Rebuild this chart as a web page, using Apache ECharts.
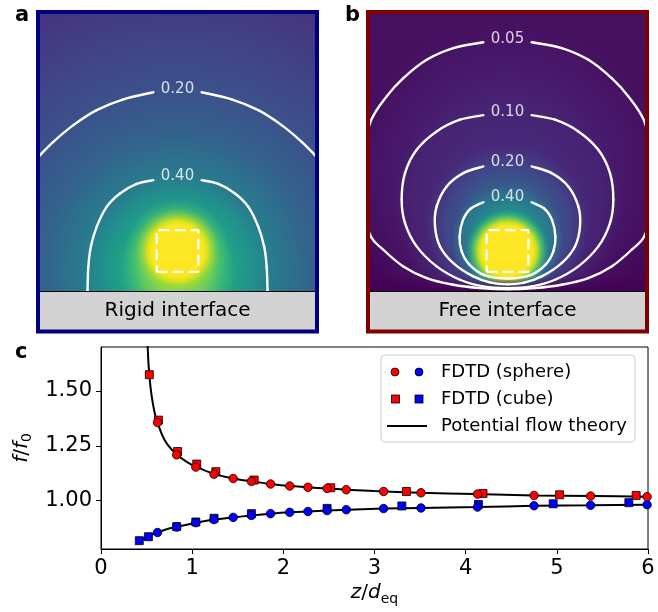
<!DOCTYPE html>
<html><head><meta charset="utf-8">
<script src="https://cdn.jsdelivr.net/npm/echarts@6/dist/echarts.min.js"></script>
<style>html,body{margin:0;padding:0;background:#fff}#c{width:658px;height:612px}</style>
</head><body><div id="c"></div>
<script>
// ================= DATA =================
// Panel c: FDTD sphere results (red = free interface, blue = rigid interface)
const sphereZ     = [0.62,0.83,1.04,1.24,1.45,1.65,1.86,2.07,2.27,2.48,2.69,3.10,3.51,4.13,4.75,5.37,5.99];
const sphereRed   = [1.356,1.209,1.153,1.121,1.101,1.088,1.076,1.067,1.061,1.056,1.050,1.042,1.036,1.030,1.024,1.021,1.018];
const sphereBlue  = [0.855,0.880,0.900,0.914,0.924,0.933,0.941,0.947,0.951,0.955,0.959,0.964,0.967,0.971,0.977,0.979,0.982];
// FDTD cube results
const cubeZRed    = [0.53,0.63,0.84,1.05,1.26,1.68,2.52,3.35,4.19,5.03,5.87];
const cubeRed     = [1.574,1.367,1.224,1.167,1.132,1.094,1.059,1.042,1.033,1.027,1.024];
const cubeZBlue   = [0.42,0.52,0.83,1.04,1.24,1.65,2.48,3.30,4.14,4.96,5.79];
const cubeBlue    = [0.818,0.836,0.882,0.903,0.920,0.941,0.965,0.976,0.983,0.986,0.991];
// Potential flow theory curves
const theoryRed  = [[0.505,1.75],[0.512,1.70],[0.520,1.63],[0.530,1.575],[0.545,1.51],[0.57,1.44],[0.60,1.38],[0.62,1.356],[0.67,1.30],[0.73,1.255],[0.83,1.21],[0.94,1.177],[1.04,1.155],[1.24,1.122],[1.45,1.101],[1.65,1.088],[1.86,1.076],[2.07,1.067],[2.5,1.055],[3.0,1.044],[3.5,1.036],[4.1,1.030],[4.75,1.024],[5.4,1.021],[6.0,1.018]];
const theoryBlue = [[0.42,0.818],[0.52,0.838],[0.62,0.856],[0.72,0.870],[0.83,0.881],[1.04,0.900],[1.24,0.914],[1.45,0.924],[1.65,0.933],[1.86,0.941],[2.07,0.947],[2.48,0.955],[3.1,0.964],[3.5,0.967],[4.13,0.971],[4.75,0.977],[5.37,0.979],[6.0,0.982]];
const yTicks = [1.00,1.25,1.50];
const xTicks = [0,1,2,3,4,5,6];

// Panels a/b: contour lines (x: lateral offset, y: height above interface, in cube sizes)
const a020L = [[-3.45,3.10],[-3.3,3.26],[-2.98,3.58],[-2.5,3.98],[-1.94,4.34],[-1.3,4.60],[-0.58,4.77]];
const a020R = [[0.58,4.77],[1.3,4.60],[1.94,4.34],[2.5,3.98],[2.98,3.58],[3.3,3.26],[3.45,3.10]];
const a040L = [[-2.16,-0.05],[-2.16,0.02],[-2.14,0.58],[-2.08,1.06],[-1.94,1.54],[-1.70,2.02],[-1.38,2.34],[-0.98,2.57],[-0.58,2.66]];
const a040R = [[0.58,2.66],[0.98,2.57],[1.38,2.34],[1.70,2.02],[1.94,1.54],[2.08,1.06],[2.14,0.58],[2.16,0.02],[2.16,-0.05]];
const aLevels = ['0.20','0.40'];
const aLabelPos = [[0,4.84],[0,2.76]];

const b005 = [[-0.58,5.97],[-1.3,5.83],[-1.94,5.55],[-2.5,5.11],[-2.9,4.67],[-3.3,4.03],[-3.5,3.0],[-3.5,2.2],[-3.3,1.35],[-2.98,0.99],[-2.5,0.59],[-1.94,0.31],[-1.3,0.15],[-0.66,0.07],[0,0.04],[0.66,0.07],[1.3,0.15],[1.94,0.31],[2.5,0.59],[2.98,0.99],[3.3,1.35],[3.5,2.2],[3.5,3.0],[3.3,4.03],[2.9,4.67],[2.5,5.11],[1.94,5.55],[1.3,5.83],[0.58,5.97]];
const b010 = [[-0.58,4.22],[-1.14,4.11],[-1.7,3.83],[-2.18,3.39],[-2.46,2.83],[-2.54,2.19],[-2.46,1.63],[-2.18,1.07],[-1.7,0.59],[-1.14,0.27],[-0.58,0.11],[0,0.07],[0.58,0.11],[1.14,0.27],[1.7,0.59],[2.18,1.07],[2.46,1.63],[2.54,2.19],[2.46,2.83],[2.18,3.39],[1.7,3.83],[1.14,4.11],[0.58,4.22]];
const b020 = [[-0.58,2.99],[-1.06,2.83],[-1.46,2.51],[-1.7,2.03],[-1.74,1.55],[-1.62,1.07],[-1.3,0.67],[-0.82,0.35],[-0.4,0.2],[0,0.16],[0.4,0.2],[0.82,0.35],[1.3,0.67],[1.62,1.07],[1.74,1.55],[1.7,2.03],[1.46,2.51],[1.06,2.83],[0.58,2.99]];
const b040 = [[-0.58,2.13],[-0.88,1.98],[-1.07,1.7],[-1.15,1.3],[-1.1,0.95],[-0.92,0.64],[-0.55,0.38],[0,0.30],[0.55,0.38],[0.92,0.64],[1.1,0.95],[1.15,1.3],[1.07,1.7],[0.88,1.98],[0.58,2.13]];
const bLevels = ['0.05','0.10','0.20','0.40'];
const bLabelPos = [[0,6.04],[0,4.30],[0,3.09],[0,2.26]];

const cubeOutline = [[-0.5,0.46],[0.5,0.46],[0.5,1.46],[-0.5,1.46],[-0.5,0.46]];

// ================= STYLE (colour field approximations) =================
const FONT = '"DejaVu Sans", sans-serif';
const panelAGlows = [
  {c:[0,0.5], r:7.5, stops:[[0,'#c8e020'],[0.067,'#a8db34'],[0.107,'#6ccd5a'],[0.133,'#40bd72'],[0.187,'#1fa088'],[0.24,'#21918c'],[0.293,'#287d8e'],[0.427,'#33638d'],[0.573,'#3b528b'],[0.733,'#414487'],[0.933,'#46337f'],[1,'#472f7c']]},
  {c:[0,0.96], r:1.25, stops:[[0,'#fde725'],[0.48,'#fde725'],[0.57,'#dfe318'],[0.67,'rgba(155,217,60,0.85)'],[0.82,'rgba(94,201,98,0.4)'],[1,'rgba(74,193,109,0)']]}
];
const panelBGlows = [
  {c:[0,2.9], r:3.9, stops:[[0,'rgba(72,36,117,1)'],[0.5,'rgba(72,30,112,1)'],[0.8,'rgba(71,20,102,1)'],[0.9,'rgba(70,17,98,0.6)'],[1,'rgba(70,16,95,0)']]},
  {c:[0,2.1], r:2.75, stops:[[0,'rgba(70,48,126,1)'],[0.6,'rgba(72,40,120,1)'],[0.85,'rgba(72,36,117,0.7)'],[1,'rgba(72,36,117,0)']]},
  {c:[0,1.55], r:2.0, stops:[[0,'rgba(42,120,142,1)'],[0.45,'rgba(53,95,141,1)'],[0.75,'rgba(65,68,135,1)'],[0.9,'rgba(67,60,132,0.5)'],[1,'rgba(70,50,126,0)']]},
  {c:[0,1.2], r:1.35, stops:[[0,'rgba(34,168,132,1)'],[0.5,'rgba(33,145,140,1)'],[0.8,'rgba(42,120,142,0.9)'],[1,'rgba(47,108,142,0)']]},
  {c:[0,0.96], r:1.0, stops:[[0,'#fde725'],[0.6,'#fde725'],[0.7,'#c8e020'],[0.82,'rgba(94,201,98,0.8)'],[1,'rgba(34,168,132,0)']]}
];

function grad(stops){ return stops.map(s=>({offset:s[0], color:s[1]})); }

function fieldSeries(gi, glows, baseFill, band){
  return {
    type:'custom', xAxisIndex:gi, yAxisIndex:gi, clip:true, silent:true, z:1,
    data:[[0,0]],
    renderItem:function(params, api){
      const cs = params.coordSys;
      const ch = [];
      if (baseFill) ch.push({type:'rect', shape:{x:cs.x,y:cs.y,width:cs.width,height:cs.height}, style:{fill:baseFill}});
      glows.forEach(g=>{
        const p = api.coord(g.c);
        const r = api.size([g.r,0])[0];
        ch.push({type:'circle', shape:{cx:p[0],cy:p[1],r:r},
          style:{fill:new echarts.graphic.RadialGradient(0.5,0.5,0.5,grad(g.stops))}});
      });
      if (band){
        const top = api.coord([0,band])[1], bot = api.coord([0,0])[1];
        ch.push({type:'rect', shape:{x:cs.x,y:top,width:cs.width,height:bot-top},
          style:{fill:new echarts.graphic.LinearGradient(0,0,0,1,[{offset:0,color:'rgba(68,1,84,0)'},{offset:1,color:'rgba(68,1,84,1)'}])}});
      }
      return {type:'group', children:ch};
    }
  };
}
// contour: each data point draws the Catmull-Rom segment to the next one, via the axes' scales
function contour(gi, path){
  return {type:'custom', xAxisIndex:gi, yAxisIndex:gi, clip:true, silent:true, z:3,
    data:path, encode:{x:0, y:1},
    renderItem:function(params, api){
      const i = params.dataIndex, n = path.length;
      if (i >= n-1) return null;
      const p0 = api.coord(path[Math.max(i-1,0)]), p1 = api.coord(path[i]),
            p2 = api.coord(path[i+1]), p3 = api.coord(path[Math.min(i+2,n-1)]);
      return {type:'bezierCurve',
        shape:{x1:p1[0], y1:p1[1], x2:p2[0], y2:p2[1],
               cpx1:p1[0]+(p2[0]-p0[0])/6, cpy1:p1[1]+(p2[1]-p0[1])/6,
               cpx2:p2[0]-(p3[0]-p1[0])/6, cpy2:p2[1]-(p3[1]-p1[1])/6},
        style:{fill:null, stroke:'#ffffff', lineWidth:2.4, lineCap:'round'}};
    }};
}
function labels(gi, pos, lv){
  return {type:'scatter', xAxisIndex:gi, yAxisIndex:gi, silent:true, z:4,
    data:pos.map((p,i)=>({value:p, name:lv[i]})), symbolSize:1,
    itemStyle:{color:'rgba(0,0,0,0)'},
    label:{show:true, position:'inside', formatter:'{b}', color:'#fff', fontSize:15, fontFamily:FONT}};
}
function cube(gi){
  return {type:'line', xAxisIndex:gi, yAxisIndex:gi, data:cubeOutline, symbol:'none', silent:true, z:4,
    lineStyle:{color:'#fff', width:2.2, type:[11,5]}};
}
function hiddenAxis(gi, min, max){ return {gridIndex:gi, type:'value', min:min, max:max, show:false}; }

function svgIcon(body){
  const s = '<svg xmlns="http://www.w3.org/2000/svg" width="49" height="14" viewBox="0 0 49 14">'+body+'</svg>';
  return 'image://data:image/svg+xml;charset=utf-8,'+encodeURIComponent(s);
}
const iconSphere = svgIcon('<circle cx="8" cy="7" r="4" fill="#ff0000" stroke="#000" stroke-width="0.8"/><circle cx="32" cy="7" r="4" fill="#0000ff" stroke="#000" stroke-width="0.8"/>');
const iconCube = svgIcon('<rect x="4.5" y="3" width="8" height="8" fill="#ff0000" stroke="#000" stroke-width="0.8"/><rect x="28" y="3" width="8" height="8" fill="#0000ff" stroke="#000" stroke-width="0.8"/>');
const iconLine = svgIcon('<line x1="0" y1="7" x2="40" y2="7" stroke="#000" stroke-width="2"/>');

const nameRich = {
  i:{fontStyle:'italic', fontSize:20, lineHeight:26, color:'#000', fontFamily:FONT},
  n:{fontSize:20, lineHeight:26, color:'#000', fontFamily:FONT},
  s:{fontSize:14, lineHeight:15, verticalAlign:'bottom', color:'#000', fontFamily:FONT}
};

const chart = echarts.init(document.getElementById('c'), null, {renderer:'canvas'});
chart.setOption({
  animation:false,
  backgroundColor:'#ffffff',
  textStyle:{fontFamily:FONT},
  grid:[
    {left:40, top:13, width:275, height:278},
    {left:370, top:13, width:275, height:278},
    {left:101, top:347, width:547, height:202, show:true, borderColor:'#000', borderWidth:1, backgroundColor:'rgba(0,0,0,0)'}
  ],
  xAxis:[
    hiddenAxis(0,-3.3,3.3), hiddenAxis(1,-3.3,3.3),
    {gridIndex:2, type:'value', min:xTicks[0], max:xTicks[xTicks.length-1], interval:1,
     axisLine:{show:true, lineStyle:{color:'#000', width:1}},
     axisTick:{show:true, length:5, lineStyle:{color:'#000', width:1}},
     axisLabel:{fontSize:21, color:'#000', margin:9, fontFamily:FONT},
     splitLine:{show:false},
     name:'{i|z}{n|/}{i|d}{s|eq}', nameLocation:'middle', nameGap:31,
     nameTextStyle:{rich:nameRich}}
  ],
  yAxis:[
    hiddenAxis(0,0,6.6715), hiddenAxis(1,0,6.6715),
    {gridIndex:2, type:'value', min:0.78, max:1.70,
     axisLine:{show:true, lineStyle:{color:'#000', width:1}},
     axisTick:{show:true, length:5, customValues:yTicks, lineStyle:{color:'#000', width:1}},
     axisLabel:{fontSize:21, color:'#000', margin:9, customValues:yTicks, formatter:v=>Number(v).toFixed(2), fontFamily:FONT},
     splitLine:{show:false},
     name:'{i|f}{n|/}{i|f}{s|0}', nameLocation:'middle', nameGap:58,
     nameTextStyle:{rich:nameRich}}
  ],
  legend:{
    orient:'vertical', left:381, top:355, padding:[7,8,6,6], itemGap:7,
    itemWidth:49, itemHeight:14,
    backgroundColor:'rgba(255,255,255,0.85)', borderColor:'#cccccc', borderWidth:1, borderRadius:4,
    textStyle:{fontSize:18, color:'#000', fontFamily:FONT, lineHeight:20, padding:[0,0,0,0]},
    selectedMode:false,
    data:[{name:'FDTD (sphere)', icon:iconSphere},{name:'FDTD (cube)', icon:iconCube},{name:'Potential flow theory', icon:iconLine}]
  },
  series:[
    // panel a
    fieldSeries(0, panelAGlows, null, 0),
    contour(0,a020L), contour(0,a020R), contour(0,a040L), contour(0,a040R),
    labels(0,aLabelPos,aLevels), cube(0),
    // panel b
    fieldSeries(1, panelBGlows, new echarts.graphic.LinearGradient(0,0,0,1,[{offset:0,color:'#46115f'},{offset:0.8,color:'#460d5c'},{offset:1,color:'#440457'}]), 0.35),
    contour(1,b005), contour(1,b010), contour(1,b020), contour(1,b040),
    labels(1,bLabelPos,bLevels), cube(1),
    // panel c
    {name:'Potential flow theory', type:'line', xAxisIndex:2, yAxisIndex:2, data:theoryRed, smooth:0.3, symbol:'none', lineStyle:{color:'#000', width:2}, z:2, clip:true},
    {name:'Potential flow theory', type:'line', xAxisIndex:2, yAxisIndex:2, data:theoryBlue, smooth:0.3, symbol:'none', lineStyle:{color:'#000', width:2}, z:2, clip:true},
    {name:'FDTD (cube)', type:'scatter', xAxisIndex:2, yAxisIndex:2, symbol:'rect', symbolSize:8, z:3,
     data:cubeZRed.map((z,i)=>[z,cubeRed[i]]), itemStyle:{color:'#ff0000', borderColor:'#000', borderWidth:0.8, opacity:1}},
    {name:'FDTD (cube)', type:'scatter', xAxisIndex:2, yAxisIndex:2, symbol:'rect', symbolSize:8, z:3,
     data:cubeZBlue.map((z,i)=>[z,cubeBlue[i]]), itemStyle:{color:'#0000ff', borderColor:'#000', borderWidth:0.8, opacity:1}},
    {name:'FDTD (sphere)', type:'scatter', xAxisIndex:2, yAxisIndex:2, symbol:'circle', symbolSize:8.5, z:4,
     data:sphereZ.map((z,i)=>[z,sphereRed[i]]), itemStyle:{color:'#ff0000', borderColor:'#000', borderWidth:0.8, opacity:1}},
    {name:'FDTD (sphere)', type:'scatter', xAxisIndex:2, yAxisIndex:2, symbol:'circle', symbolSize:8.5, z:4,
     data:sphereZ.map((z,i)=>[z,sphereBlue[i]]), itemStyle:{color:'#0000ff', borderColor:'#000', borderWidth:0.8, opacity:1}}
  ],
  graphic:[
    // panel a frame
    {type:'rect', z:100, shape:{x:40,y:291,width:275,height:39}, style:{fill:'#d3d3d3'}},
    {type:'line', z:101, shape:{x1:40,y1:291.5,x2:315,y2:291.5}, style:{stroke:'#000', lineWidth:1.2}},
    {type:'text', z:101, style:{text:'Rigid interface', x:177.5, y:311, align:'center', verticalAlign:'middle', textAlign:'center', textVerticalAlign:'middle', font:'20px '+FONT, fill:'#000'}},
    {type:'rect', z:102, shape:{x:38,y:12,width:279,height:319.5}, style:{fill:'none', stroke:'#00007f', lineWidth:4}},
    // panel b frame
    {type:'rect', z:100, shape:{x:370,y:291,width:275,height:39}, style:{fill:'#d3d3d3'}},
    {type:'line', z:101, shape:{x1:370,y1:291.5,x2:645,y2:291.5}, style:{stroke:'#000', lineWidth:1.2}},
    {type:'text', z:101, style:{text:'Free interface', x:507.5, y:311, align:'center', verticalAlign:'middle', textAlign:'center', textVerticalAlign:'middle', font:'20px '+FONT, fill:'#000'}},
    {type:'rect', z:102, shape:{x:368,y:12,width:279,height:319.5}, style:{fill:'none', stroke:'#7f0000', lineWidth:4}},
    // panel letters
    {type:'text', z:103, style:{text:'a', x:15, y:26, verticalAlign:'bottom', textVerticalAlign:'bottom', font:'bold 21px '+FONT, fill:'#000'}},
    {type:'text', z:103, style:{text:'b', x:345, y:26, verticalAlign:'bottom', textVerticalAlign:'bottom', font:'bold 21px '+FONT, fill:'#000'}},
    {type:'text', z:103, style:{text:'c', x:15, y:363, verticalAlign:'bottom', textVerticalAlign:'bottom', font:'bold 21px '+FONT, fill:'#000'}}
  ]
});
</script></body></html>
